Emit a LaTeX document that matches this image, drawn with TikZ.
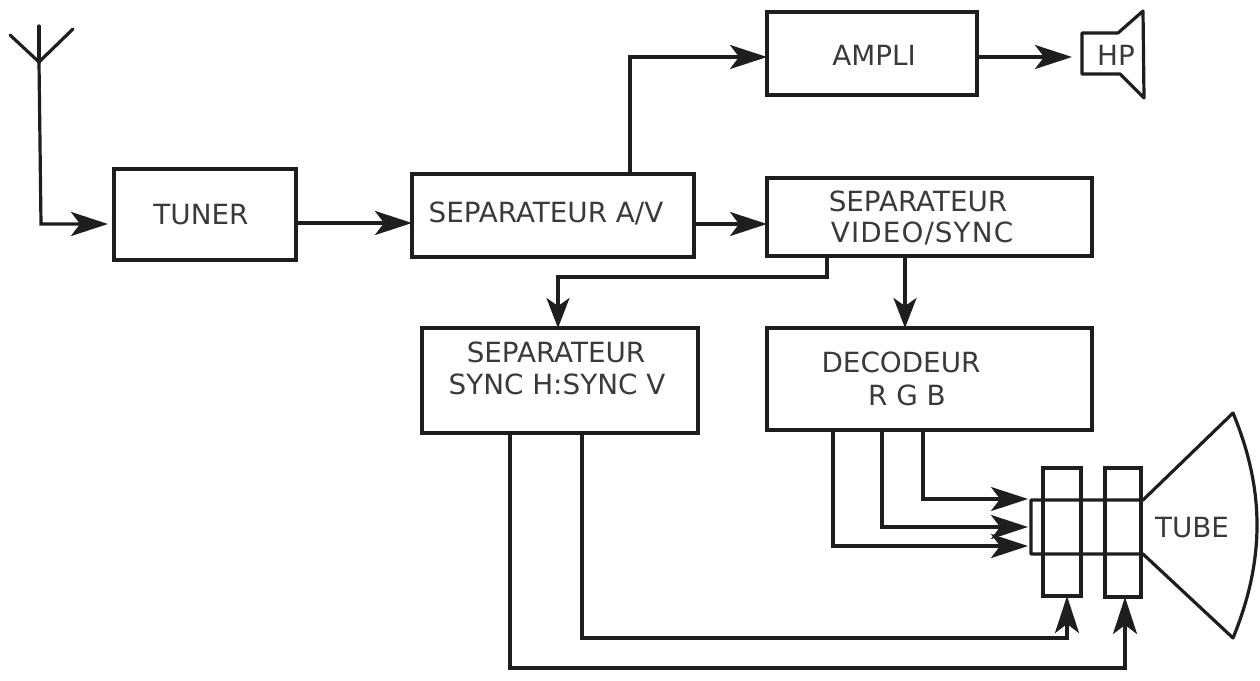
\documentclass[tikz,border=0pt]{standalone}
\usepackage{fontspec}
\setmainfont{DejaVu Sans}
\usetikzlibrary{arrows.meta,positioning}
\definecolor{ink}{HTML}{1E1E1E}
\definecolor{txt}{HTML}{3A3A3A}
\tikzset{
  wire/.style={draw=ink,line width=3.2pt,line join=miter},
  arr/.style={wire,-{Stealth[length=37pt,width=24pt,inset=9pt]}},
  arrs/.style={wire,-{Stealth[length=30pt,width=23pt,inset=8pt]}},
  blk/.style={draw=ink,line width=3.2pt,rectangle,inner sep=0pt,outer sep=0pt,anchor=north west},
  lbl/.style={text=txt,font=\fontsize{27.8}{28}\selectfont,inner sep=0pt,anchor=center},
}
\newcommand{\blkat}[5]{\node[blk,minimum width=#4 pt,minimum height=#5 pt] (#1) at (#2,#3) {};}
\begin{document}
\begin{tikzpicture}[x=1pt,y=-1pt]
\useasboundingbox (0,0) rectangle (1260,680);
\blkat{tuner}{114}{169}{182}{91}
\blkat{sepav}{412}{174}{282}{83}
\blkat{ampli}{767}{12}{210}{83}
\blkat{sepvid}{767}{178}{325}{78}
\blkat{sepsync}{422}{328}{276}{105}
\blkat{dec}{767}{328}{325}{102}
\blkat{defl}{1043}{468}{38}{128}
\blkat{conv}{1105}{468}{36}{129}
% labels
\node[lbl] (ttuner) at (201,215) {TUNER};
\node[lbl] (tsepav) at (546,213) {SEPARATEUR A/V};
\node[lbl] (tampli) at (874,55) {AMPLI};
\node[lbl] (tsv1) at (918,201) {SEPARATEUR};
\node[lbl] (tsv2) at (922,233) {\addfontfeature{LetterSpace=4}VIDEO/SYNC};
\node[lbl] (tss1) at (556,352) {SEPARATEUR};
\node[lbl] (tss2) at (557,384) {SYNC H:SYNC V};
\node[lbl] (tdec1) at (901,362) {DECODEUR};
\node[lbl] (tdec2) at (907,395) {R G B};
\node[lbl] (ttube) at (1192,528) {TUBE};
\node[lbl] (thp) at (1116,55) {HP};
% antenna
\coordinate (ant) at (39,62);
\draw[wire,line cap=round] (39,26) -- (ant);
\draw[wire,line cap=round] (10,35) -- (ant) -- (73,29);
% speaker
\draw[wire,line join=round] (1082,33) -- (1118,33) -- (1143,11) -- (1144,98) -- (1120,74) -- (1082,74) -- cycle;
\coordinate (hpin) at (1072,57);
% tube
\coordinate (neckA) at (1143,500);
\coordinate (neckB) at (1143,554);
\draw[wire,line join=round] (1031,500) -- (neckA) -- (1233,413) .. controls (1265,490) and (1265,560) .. (1233,638) -- (neckB) -- (1031,554) -- cycle;
% connectors
\coordinate (antc) at (41,224);
\draw[arr] (ant) -- (41,224) -- (108,224);
\coordinate (y223) at (0,223);
\draw[arr] (tuner.east |- y223) -- (sepav.west |- y223);
\coordinate (y224) at (0,224);
\draw[arr] (sepav.east |- y224) -- (sepvid.west |- y224);
\coordinate (x630) at (630,0);
\coordinate (y57) at (0,57);
\draw[arr] (sepav.north -| x630) -- (630,57) -- (ampli.west |- y57);
\draw[arr] (ampli.east |- y57) -- (hpin);
\coordinate (x827) at (827,0);
\coordinate (x558) at (558,0);
\draw[arrs] (sepvid.south -| x827) -- (827,277) -- (558,277) -- (sepsync.north -| x558);
\coordinate (x905) at (905,0);
\draw[arrs] (sepvid.south -| x905) -- (dec.north -| x905);
\coordinate (x510) at (510,0);
\coordinate (x1125) at (1125,0);
\draw[arr] (sepsync.south -| x510) -- (510,668) -- (1125,668) -- (conv.south -| x1125);
\coordinate (x582) at (582,0);
\coordinate (x1067) at (1067,0);
\draw[arr] (sepsync.south -| x582) -- (582,638) -- (1067,638) -- (defl.south -| x1067);
\coordinate (x923) at (923,0);
\coordinate (x882) at (882,0);
\coordinate (x833) at (833,0);
\coordinate (tipA) at (1028,499);
\coordinate (tipB) at (1028,527);
\coordinate (tipC) at (1028,546);
\draw[arr] (dec.south -| x923) -- (923,499) -- (tipA);
\draw[arr] (dec.south -| x882) -- (882,527) -- (tipB);
\draw[arr] (dec.south -| x833) -- (833,546) -- (tipC);
\end{tikzpicture}
\end{document}
